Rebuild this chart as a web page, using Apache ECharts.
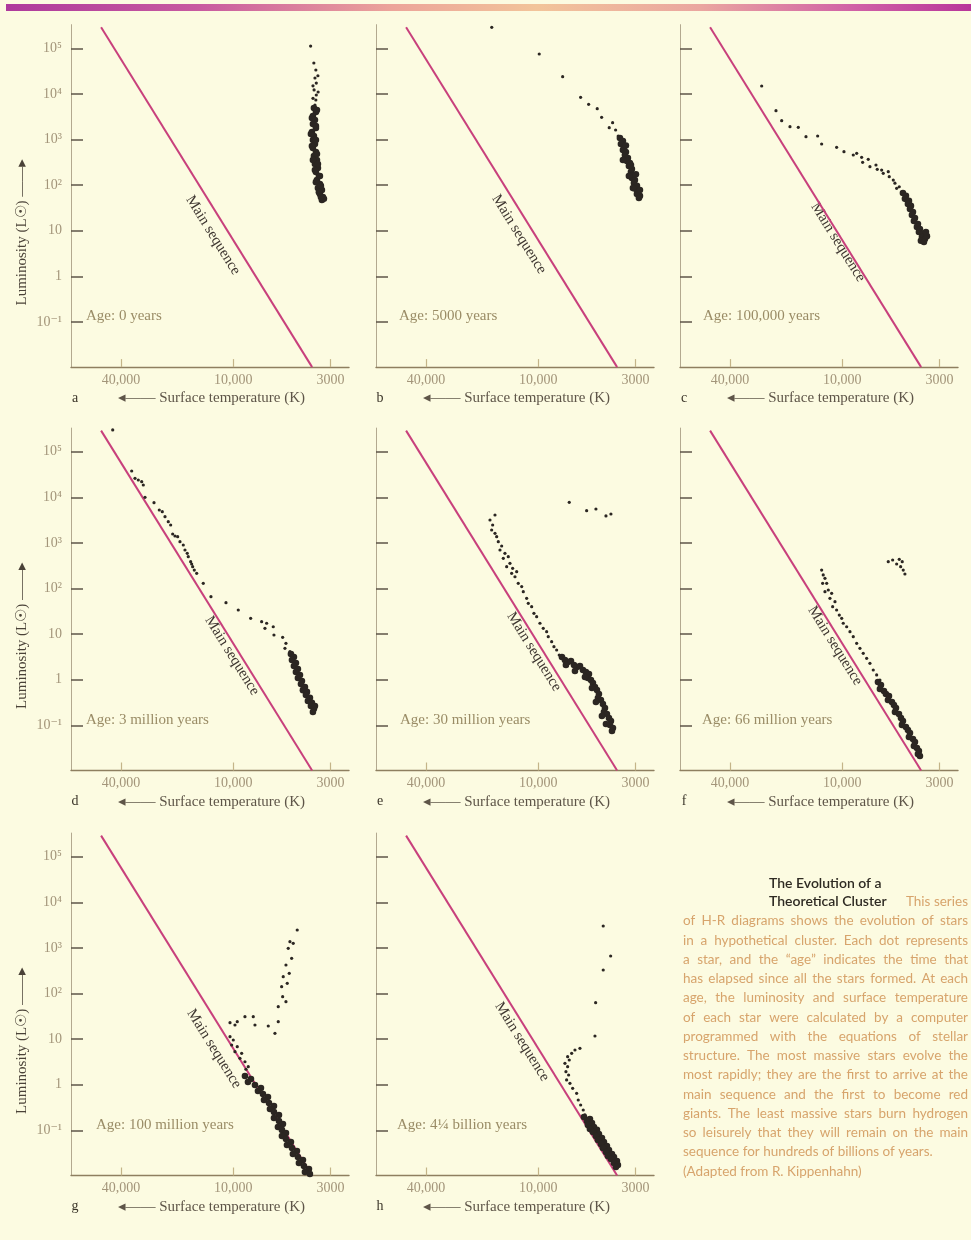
<!DOCTYPE html>
<html><head><meta charset="utf-8">
<script src="https://cdn.jsdelivr.net/npm/echarts@6/dist/echarts.min.js"></script>
<style>html,body{margin:0;padding:0;background:#fcfbe1;} #c{width:971px;height:1240px;}</style>
</head><body><div id="c"></div>
<script>
// ---------- data ----------
const panelLetters = ['a','b','c','d','e','f','g','h'];
const ageLabels = ['Age: 0 years','Age: 5000 years','Age: 100,000 years','Age: 3 million years','Age: 30 million years','Age: 66 million years','Age: 100 million years','Age: 4\u00BC billion years'];
const xTickValues = [40000, 10000, 3000];
const xTickLabels = ['40,000', '10,000', '3000'];
const yTickValues = [0.1, 1, 10, 100, 1000, 10000, 100000];
const yTickLabels = ['10\u207B\u00B9', '1', '10', '10\u00B2', '10\u00B3', '10\u2074', '10\u2075'];
const tempRange = [2390, 74200];
const lumRange = [0.0102, 330000];
const mainSeqT = [51150, 3770];
const mainSeqL = [290000, 0.0102];

const starsA = [[3840,112000],[3690,47600],[3600,33400],[3510,25000],[3640,22300],[3580,17300],[3730,15000],[3680,12200],[3500,11000],[3580,9460],[3730,8000],[3600,7350],[3640,5710]];
const clumpA = [[3687,4909],[3597,4009],[3733,3275],[3641,2677],[3733,2188],[3597,1787],[3779,1460],[3687,1194],[3733,975],[3641,797],[3733,651],[3597,532],[3687,435],[3552,355],[3641,290],[3509,237],[3597,194],[3466,158],[3552,129],[3424,106],[3509,86],[3341,78],[3424,64],[3300,55],[3341,47],[3552,4450],[3779,2950],[3597,1980],[3826,1320],[3597,975],[3779,720],[3552,480],[3733,355],[3509,290],[3641,214],[3424,158],[3597,116],[3382,96],[3466,70],[3259,50],[3382,55]];

const starsB = [[17750,288700],[9870,75000],[7390,23850],[5920,8420],[5360,5916],[4820,4736],[4565,3067],[3986,2333],[4156,1815],[3840,1615],[3719,1194]];
const clumpB = [[3641,1079],[3509,927],[3597,797],[3466,685],[3509,589],[3381,532],[3424,457],[3300,393],[3341,338],[3219,305],[3259,262],[3140,226],[3178,194],[3101,167],[3140,143],[3026,129],[3063,111],[2951,96],[2988,82],[2915,74],[2951,64],[2844,58],[2880,52],[3381,735],[3509,355],[3178,276],[3259,158],[2988,173],[3101,86],[2844,78]];

const starsC = [[27040,14900],[22660,4281],[21120,2585],[19060,1909],[17200,1851],[15640,1152],[13540,1193],[12890,797],[10710,674],[9781,540],[8720,457],[8360,498],[7863,407],[7766,316],[7247,368],[7096,253],[6586,276],[6482,222],[6140,214],[6020,181],[5659,197],[5590,153],[5319,129],[5209,110],[5101,85],[4939,92]];
const clumpC = [[4720,67],[4548,58],[4605,50],[4382,45],[4437,38.5],[4276,35],[4328,30],[4171,25.7],[4223,22],[4069,19],[4120,16.3],[3921,14],[3970,12.1],[3826,10.9],[3874,9.4],[3687,8.5],[3733,7.3],[3597,6.6],[3779,6.0],[3641,5.65],[3509,7.6],[3552,9.4]];

const starsD = [[44320,300000],[35050,37750],[33650,26100],[32300,23950],[30970,21990],[30360,18610],[29730,10000],[26600,7613],[24920,5266],[24010,4833],[23220,3754],[22300,2917],[21650,2470],[21120,1567],[20530,1417],[19860,1368],[19300,1062],[18530,899],[18140,699],[17640,591],[17420,498],[16910,387],[16700,345],[16500,301],[16170,254],[15700,215],[14470,130],[13160,66.1],[10930,48.8],[9391,33.8],[8057,22.2],[7036,18.7],[6612,17.3],[6752,13.4],[6095,14.5],[6042,9.56],[5426,8.51],[5209,6.28],[5274,4.88],[4958,4.11]];
const clumpD = [[4898,3.66],[4720,3.15],[4837,2.70],[4605,2.32],[4720,2.00],[4493,1.72],[4605,1.48],[4382,1.27],[4493,1.09],[4276,0.94],[4328,0.80],[4120,0.69],[4223,0.59],[4018,0.54],[4069,0.46],[3874,0.40],[3970,0.34],[3779,0.31],[3826,0.265],[3687,0.23],[3733,0.196],[3641,0.265]];

const starsE = [[6811,7770],[5494,5083],[4898,5538],[4328,3899],[4069,4303],[17050,4091],[18140,3178],[17550,2470],[17770,1918],[17050,1623],[16700,1368],[16370,1062],[15700,855],[16030,699],[15080,591],[15390,459],[14470,498],[14170,357],[14760,301],[13710,277],[13880,215],[13040,234],[13320,181],[12790,130],[12260,110],[12020,85],[11530,61],[11300,47.4],[10840,39.9],[10540,28.6],[10190,24.1],[9781,17.3],[9391,13.4],[9006,11.3],[8830,8.77],[8466,6.81],[8229,5.29],[7959,4.48],[7708,3.48]];
const clumpE = [[7455,3.15],[7184,2.70],[6922,2.44],[6670,2.57],[6427,2.10],[6194,1.90],[5968,2.00],[5751,1.63],[5542,1.48],[5340,1.33],[5407,1.09],[5209,0.985],[5083,0.846],[4958,0.692],[4837,0.594],[4720,0.486],[4779,0.397],[4605,0.359],[4493,0.293],[4382,0.239],[4437,0.196],[4276,0.177],[4171,0.145],[4069,0.124],[4120,0.102],[3970,0.0873],[4018,0.075],[7096,2.10],[6348,1.55],[5610,1.15],[5145,0.658],[4898,0.324],[4548,0.160],[4328,0.107]];

const starsF = [[5659,387],[5359,422],[5101,345],[4939,437],[4855,301],[4702,254],[4605,208],[4761,387],[12890,254],[12640,198],[12370,167],[12730,130],[12110,130],[11870,92.7],[12370,85.1],[11390,78.5],[11630,61.0],[10930,51.3],[11250,39.9],[10710,33.8],[10360,26.2],[10060,22.2],[9867,17.3],[9460,14.5],[9082,11.3],[8720,8.77],[8361,6.28],[8028,4.88],[7708,3.79],[7390,2.95],[7096,2.29],[6811,1.63],[6531,1.27],[6272,0.985]];
const clumpF = [[6427,0.890],[6194,0.765],[6272,0.625],[5968,0.565],[5823,0.486],[5610,0.439],[5680,0.359],[5407,0.324],[5275,0.279],[5145,0.239],[5209,0.196],[4958,0.177],[4837,0.145],[4720,0.124],[4779,0.102],[4548,0.0918],[4437,0.0788],[4328,0.0678],[4382,0.0554],[4171,0.0501],[4069,0.0430],[4120,0.0352],[3970,0.0318],[3874,0.0273],[3921,0.0235],[3826,0.0212]];

const starsG = [[10400,22.9],[9781,20.4],[9508,24.1],[8646,31.0],[7803,31.0],[7640,20.4],[6482,19.4],[5968,13.4],[5729,24.1],[5729,51.3],[5426,85.1],[5209,66.1],[5494,141],[5126,167],[5387,234],[5002,277],[5209,422],[4855,591],[5064,980],[4958,1368],[4761,1262],[4532,2470],[10400,11.3],[9989,9.56],[10190,7.42],[9508,6.81],[9781,5.29],[9006,4.88],[9197,3.79],[8646,3.19],[8299,2.48],[8540,2.18]];
const clumpG = [[8646,1.55],[8028,1.33],[8331,1.15],[7640,0.985],[7096,0.846],[7362,0.727],[6922,0.625],[6506,0.537],[6836,0.462],[6427,0.397],[6042,0.341],[6348,0.293],[6042,0.252],[5680,0.217],[6042,0.186],[5680,0.160],[5407,0.137],[5751,0.118],[5474,0.102],[5209,0.0873],[5474,0.0750],[5209,0.0644],[4898,0.0554],[5145,0.0476],[4837,0.0409],[4548,0.0352],[4779,0.0302],[4493,0.0260],[4223,0.0223],[4437,0.0192],[4171,0.0165],[3921,0.0142],[4120,0.0122],[3874,0.0110]];

const starsH = [[4476,3022],[4084,664],[4476,328],[4916,62.8],[4958,11.7],[5968,6.28],[6348,5.77],[6612,4.88],[6950,4.11],[6811,3.48],[7184,2.95],[6950,2.48],[7096,1.93],[6864,1.63],[7036,1.27],[6752,1.07],[6531,0.834],[6217,0.648],[6095,0.462],[5917,0.359],[5729,0.279],[5610,0.217]];
const clumpH = [[5680,0.196],[5275,0.177],[5474,0.160],[5145,0.145],[5407,0.131],[5020,0.118],[5275,0.107],[4837,0.102],[5083,0.0918],[4720,0.0830],[4898,0.0750],[4548,0.0678],[4779,0.0613],[4437,0.0554],[4605,0.0501],[4276,0.0453],[4493,0.0409],[4171,0.0370],[4328,0.0334],[4018,0.0302],[4223,0.0273],[3921,0.0260],[4069,0.0235],[3779,0.0212],[3921,0.0192],[3733,0.0173],[3826,0.0157]];

const captionTitle1 = 'The Evolution of a';
const captionTitle2 = 'Theoretical Cluster';
const captionLead = 'This series';
const captionLines = [
  'of H-R diagrams shows the evolution of stars',
  'in a hypothetical cluster. Each dot represents',
  'a star, and the \u201Cage\u201D indicates the time that',
  'has elapsed since all the stars formed. At each',
  'age, the luminosity and surface temperature',
  'of each star were calculated by a computer',
  'programmed with the equations of stellar',
  'structure. The most massive stars evolve the',
  'most rapidly; they are the first to arrive at the',
  'main sequence and the first to become red',
  'giants. The least massive stars burn hydrogen',
  'so leisurely that they will remain on the main',
  'sequence for hundreds of billions of years.',
  '(Adapted from R. Kippenhahn)'
];

// ---------- layout ----------
const starSets = [starsA, starsB, starsC, starsD, starsE, starsF, starsG, starsH];
const clumpSets = [clumpA, clumpB, clumpC, clumpD, clumpE, clumpF, clumpG, clumpH];
const colLeft = [71, 376, 680];
const rowTen5 = [48.3, 451.7, 856.7];
const PXDEC = 45.6;
const gridW = 278;
const gridH = (Math.log10(lumRange[1]) - Math.log10(lumRange[0])) * PXDEC;
const ageDx = [15, 23, 23, 15, 24, 22, 25, 21];
const msLabelPos = [[142,187],[143,186],[158,194],[161,204],[158,200],[155,194],[143,192],[146,185]];

const SERIF = '"Liberation Serif", "DejaVu Serif", serif';
const INK = '#2b2622';

function yLab(v) {
  const lv = Math.log10(v);
  const k = yTickValues.findIndex(t => Math.abs(Math.log10(t) - lv) < 0.01);
  return k >= 0 ? yTickLabels[k] : '';
}
function xLab(v) {
  const k = xTickValues.findIndex(t => Math.abs(t - v) / t < 0.01);
  return k >= 0 ? xTickLabels[k] : '';
}

const grids = [], xAxes = [], yAxes = [], series = [], graphics = [];

graphics.push({
  type: 'rect', shape: {x: 6, y: 4, width: 965, height: 7}, silent: true,
  style: {fill: new echarts.graphic.LinearGradient(0, 0, 1, 0, [
    {offset: 0, color: '#ae3a9c'}, {offset: 0.2, color: '#c85aa0'},
    {offset: 0.4, color: '#eca49a'}, {offset: 0.55, color: '#f2c49a'},
    {offset: 0.72, color: '#eaa6a0'}, {offset: 0.88, color: '#d060a6'},
    {offset: 1, color: '#b8369a'}])}
});

starSets.forEach((stars, i) => {
  const col = i % 3, row = Math.floor(i / 3);
  const left = colLeft[col], y5 = rowTen5[row];
  const top = y5 - (Math.log10(lumRange[1]) - 5) * PXDEC;
  grids.push({left: left, top: top, width: gridW, height: gridH, show: false, containLabel: false, outerBoundsMode: 'none'});
  xAxes.push({
    type: 'log', gridIndex: i, inverse: true, min: tempRange[0], max: tempRange[1],
    axisLine: {show: true, lineStyle: {color: '#8e7f60', width: 1.4}},
    axisTick: {show: true, inside: true, length: 8, customValues: xTickValues, lineStyle: {color: '#c4b488', width: 1.2}},
    axisLabel: {show: true, customValues: xTickValues, formatter: xLab, color: '#a3957a', fontFamily: SERIF, fontSize: 14, margin: 6},
    splitLine: {show: false}, minorTick: {show: false}
  });
  yAxes.push({
    type: 'log', gridIndex: i, min: lumRange[0], max: lumRange[1],
    axisLine: {show: true, lineStyle: {color: '#b3a98f', width: 1}},
    axisTick: {show: true, inside: true, length: 12, customValues: yTickValues, lineStyle: {color: '#5e5548', width: 1.5}},
    axisLabel: {show: col === 0, customValues: yTickValues, formatter: yLab, color: '#a3957a', fontFamily: SERIF, fontSize: 14, margin: 9},
    splitLine: {show: false}, minorTick: {show: false}
  });
  series.push({
    type: 'line', xAxisIndex: i, yAxisIndex: i, silent: true, z: 2,
    data: mainSeqT.map((t, k) => [t, mainSeqL[k]]),
    symbol: 'none', showSymbol: false, lineStyle: {color: '#c8407c', width: 2}
  });
  series.push({
    type: 'scatter', xAxisIndex: i, yAxisIndex: i, silent: true, z: 3,
    data: stars, symbolSize: 3.2, itemStyle: {color: INK, opacity: 1}
  });
  series.push({
    type: 'scatter', xAxisIndex: i, yAxisIndex: i, silent: true, z: 3,
    data: clumpSets[i], symbolSize: 6.6, itemStyle: {color: INK, opacity: 1}
  });

  graphics.push({type: 'text', x: left + ageDx[i], y: y5 + 268, silent: true,
    style: {text: ageLabels[i], fill: '#9a8c66', font: '15px ' + SERIF, textAlign: 'left', textVerticalAlign: 'middle'}});
  graphics.push({type: 'text', x: left + msLabelPos[i][0], y: y5 + msLabelPos[i][1], rotation: -1.014, silent: true,
    style: {text: 'Main sequence', fill: '#3e3630', font: '15px ' + SERIF, textAlign: 'center', textVerticalAlign: 'middle'}});
  graphics.push({type: 'text', x: left + 4, y: y5 + 350, silent: true,
    style: {text: panelLetters[i], fill: '#3a3428', font: '14px ' + SERIF, textAlign: 'center', textVerticalAlign: 'middle'}});
  graphics.push({type: 'text', x: left + 47, y: y5 + 350, silent: true,
    style: {text: '\u25C2\u2014\u2014 Surface temperature (K)', fill: '#5e5548', font: '15px ' + SERIF, textAlign: 'left', textVerticalAlign: 'middle'}});
  if (col === 0) {
    graphics.push({type: 'text', x: 22, y: y5 + 184, rotation: Math.PI / 2, silent: true,
      style: {text: 'Luminosity (L\u2609) \u2014\u2014\u25B8', fill: '#4a4238', font: '15px ' + SERIF, textAlign: 'center', textVerticalAlign: 'middle'}});
  }
});

// caption (justified body text)
const CAP = 'Lato, "Open Sans", sans-serif';
const BODY_FONT = '13.5px ' + CAP;
const TITLE_FONT = '600 14px ' + CAP;
const BODY_COL = '#d7a46c';
const capLeft = 683, capRight = 968;
const mctx = document.createElement('canvas').getContext('2d');
function wordsAt(line, y, justify) {
  mctx.font = BODY_FONT;
  const words = line.split(' ');
  const widths = words.map(w => mctx.measureText(w).width);
  const total = widths.reduce((a, b) => a + b, 0);
  const gap = justify && words.length > 1 ? (capRight - capLeft - total) / (words.length - 1) : mctx.measureText(' ').width;
  let x = capLeft;
  words.forEach((w, k) => {
    graphics.push({type: 'text', x: x, y: y, silent: true,
      style: {text: w, fill: BODY_COL, font: BODY_FONT, textAlign: 'left', textVerticalAlign: 'middle'}});
    x += widths[k] + gap;
  });
}
graphics.push({type: 'text', x: 769, y: 883, silent: true,
  style: {text: captionTitle1, fill: '#2e2a22', font: TITLE_FONT, textAlign: 'left', textVerticalAlign: 'middle'}});
graphics.push({type: 'text', x: 769, y: 901.5, silent: true,
  style: {text: captionTitle2, fill: '#2e2a22', font: TITLE_FONT, textAlign: 'left', textVerticalAlign: 'middle'}});
graphics.push({type: 'text', x: capRight, y: 901.5, silent: true,
  style: {text: captionLead, fill: BODY_COL, font: BODY_FONT, textAlign: 'right', textVerticalAlign: 'middle'}});
captionLines.forEach((ln, k) => {
  wordsAt(ln, 921 + k * 19.25, k < captionLines.length - 2);
});

const chart = echarts.init(document.getElementById('c'), null, {renderer: 'canvas'});
chart.setOption({
  backgroundColor: '#fcfbe1',
  animation: false,
  grid: grids, xAxis: xAxes, yAxis: yAxes, series: series, graphic: graphics
});
</script></body></html>
